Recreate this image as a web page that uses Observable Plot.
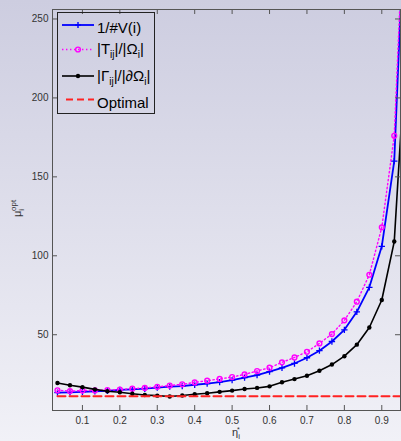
<!DOCTYPE html>
<html><head><meta charset="utf-8">
<script src="https://cdn.jsdelivr.net/npm/d3@7"></script>
<script src="https://cdn.jsdelivr.net/npm/@observablehq/plot@0.6"></script>
<style>
html,body{margin:0;padding:0;}
body{width:401px;height:441px;overflow:hidden;background:linear-gradient(#cdcde0,#f1f1f7);}
#chart{position:relative;width:401px;height:441px;}
</style></head><body><div id="chart"></div>
<script>
const eta = [0.0333,0.0667,0.1,0.1333,0.1667,0.2,0.2333,0.2667,0.3,0.3333,0.3667,0.4,0.4333,0.4667,0.5,0.5333,0.5667,0.6,0.6333,0.6667,0.7,0.7333,0.7667,0.8,0.8333,0.8667,0.9,0.9333,0.9667];
const invV = [13.3,13.5,13.8,14.1,14.4,15.0,15.4,15.8,16.5,17.1,17.5,18.3,19.0,20.0,21.2,22.8,24.4,26.6,29.0,31.8,35.4,39.9,45.7,53.1,64.5,80,106,160,350];
const tOmega = [14.8,14.3,14.6,14.7,15.0,15.3,15.8,16.3,17.0,17.8,18.6,19.8,20.9,22.0,23.2,24.9,27.0,29.1,32.5,35.6,39.2,44.5,50.4,59.1,70.9,88.0,118,176,360];
const gammaOmega = [19.4,18.0,16.8,15.4,14.2,13.6,12.6,11.8,11.4,10.9,11.5,12.3,12.9,13.8,14.6,15.6,16.3,17.3,19.9,21.9,24.0,27.2,31.1,36.4,43.7,54.6,72.0,109,240];
const optimalEta = [0.0333, 0.9667];
const optimalValue = [11, 11];
const xTicks = [0.1,0.2,0.3,0.4,0.5,0.6,0.7,0.8,0.9];
const yTicks = [50,100,150,200,250];

const rows = arr => eta.map((x,i)=>({x, y: arr[i]}));
const blue = rows(invV), mag = rows(tOmega), blk = rows(gammaOmega);
const opt = optimalEta.map((x,i)=>({x, y: optimalValue[i]}));

const W = 401, H = 441, mL = 52, mR = 1, mT = 9, mB = 31;
const pw = W - mL - mR, ph = H - mT - mB;
const axisColor = "#555";
const FONT = "Liberation Sans, Arial, sans-serif";

const svg = Plot.plot({
  width: W, height: H,
  marginLeft: mL, marginRight: mR, marginTop: mT, marginBottom: mB,
  x: {domain: [0.02, 0.95]},
  y: {domain: [2, 256]},
  style: {background: "transparent", fontFamily: FONT, fontSize: "10px", color: "#333"},
  marks: [
    Plot.line(blue, {x: "x", y: "y", stroke: "#0000ff", strokeWidth: 1.8, clip: true}),
    Plot.dot(blue, {x: "x", y: "y", symbol: "plus", r: 2.2, stroke: "#0000ff", strokeWidth: 1.3, clip: true}),
    Plot.line(mag, {x: "x", y: "y", stroke: "#ff00ff", strokeWidth: 1.4, strokeDasharray: "1.4,2.6", clip: true}),
    Plot.dot(mag, {x: "x", y: "y", r: 2.4, stroke: "#ff00ff", fill: "none", strokeWidth: 1.4, clip: true}),
    Plot.line(blk, {x: "x", y: "y", stroke: "#000", strokeWidth: 1.6, clip: true}),
    Plot.dot(blk, {x: "x", y: "y", r: 2.2, fill: "#000", clip: true}),
    Plot.line(opt, {x: "x", y: "y", stroke: "#ff2222", strokeWidth: 2, strokeDasharray: "8,4", clip: true}),
    Plot.ruleX(xTicks, {stroke: axisColor, insetTop: ph - 5}),
    Plot.ruleX(xTicks, {stroke: axisColor, insetBottom: ph - 5}),
    Plot.ruleY(yTicks, {stroke: axisColor, insetRight: pw - 5}),
    Plot.ruleY(yTicks, {stroke: axisColor, insetLeft: pw - 5}),
    Plot.frame({stroke: axisColor}),
    Plot.axisX(xTicks, {tickSize: 0, tickPadding: 6, label: null}),
    Plot.axisY(yTicks, {anchor: "left", tickSize: 0, tickPadding: 4, label: null})
  ]
});
document.getElementById("chart").appendChild(svg);

const s = d3.select(svg);
// axis labels
const yl = s.append("text").attr("transform", "translate(21,217) rotate(-90)").attr("text-anchor", "start")
  .attr("font-family", FONT).attr("font-size", 11).attr("fill", "#333");
yl.append("tspan").text("μ");
yl.append("tspan").attr("font-size", 8).attr("dy", 3).text("i");
yl.append("tspan").attr("font-size", 8).attr("dx", -2).attr("dy", -8).text("opt");

const xl = s.append("text").attr("x", 232).attr("y", 436).attr("text-anchor", "start")
  .attr("font-family", FONT).attr("font-size", 11).attr("fill", "#333");
xl.append("tspan").text("η");
xl.append("tspan").attr("font-size", 8).attr("dy", 3).text("i");
xl.append("tspan").attr("font-size", 7).attr("dx", -3).attr("dy", -7).text("*");

// legend
const g = s.append("g").attr("font-family", FONT).attr("font-size", 15).attr("fill", "#000").attr("text-anchor", "start");
g.append("rect").attr("x", 57.5).attr("y", 12.5).attr("width", 97).attr("height", 101)
  .attr("fill", "none").attr("stroke", "#222");
// entry 1
g.append("line").attr("x1", 62).attr("x2", 94).attr("y1", 25).attr("y2", 25).attr("stroke", "#0000ff").attr("stroke-width", 1.8);
g.append("path").attr("d", "M78,22V28M75,25H81").attr("stroke", "#0000ff").attr("stroke-width", 1.4);
g.append("text").attr("x", 97).attr("y", 33).text("1/#V(i)");
// entry 2
g.append("line").attr("x1", 62).attr("x2", 94).attr("y1", 49.5).attr("y2", 49.5).attr("stroke", "#ff00ff").attr("stroke-width", 1.4).attr("stroke-dasharray", "1.4,2.6");
g.append("circle").attr("cx", 78).attr("cy", 49.5).attr("r", 2.4).attr("fill", "none").attr("stroke", "#ff00ff").attr("stroke-width", 1.4);
const t2 = g.append("text").attr("x", 97).attr("y", 54);
t2.append("tspan").text("|T");
t2.append("tspan").attr("font-size", 10).attr("dy", 4).text("ij");
t2.append("tspan").attr("dy", -4).text("|/|Ω");
t2.append("tspan").attr("font-size", 10).attr("dy", 4).text("i");
t2.append("tspan").attr("dy", -4).text("|");
// entry 3
g.append("line").attr("x1", 62).attr("x2", 94).attr("y1", 76).attr("y2", 76).attr("stroke", "#000").attr("stroke-width", 1.6);
g.append("circle").attr("cx", 78).attr("cy", 76).attr("r", 2.2).attr("fill", "#000");
const t3 = g.append("text").attr("x", 97).attr("y", 80.5);
t3.append("tspan").text("|Γ");
t3.append("tspan").attr("font-size", 10).attr("dy", 4).text("ij");
t3.append("tspan").attr("dy", -4).text("|/|∂Ω");
t3.append("tspan").attr("font-size", 10).attr("dy", 4).text("i");
t3.append("tspan").attr("dy", -4).text("|");
// entry 4
g.append("line").attr("x1", 66).attr("x2", 94).attr("y1", 99.5).attr("y2", 99.5).attr("stroke", "#ff2222").attr("stroke-width", 2).attr("stroke-dasharray", "7,4");
g.append("text").attr("x", 97).attr("y", 107.5).text("Optimal");
</script>
</body></html>
